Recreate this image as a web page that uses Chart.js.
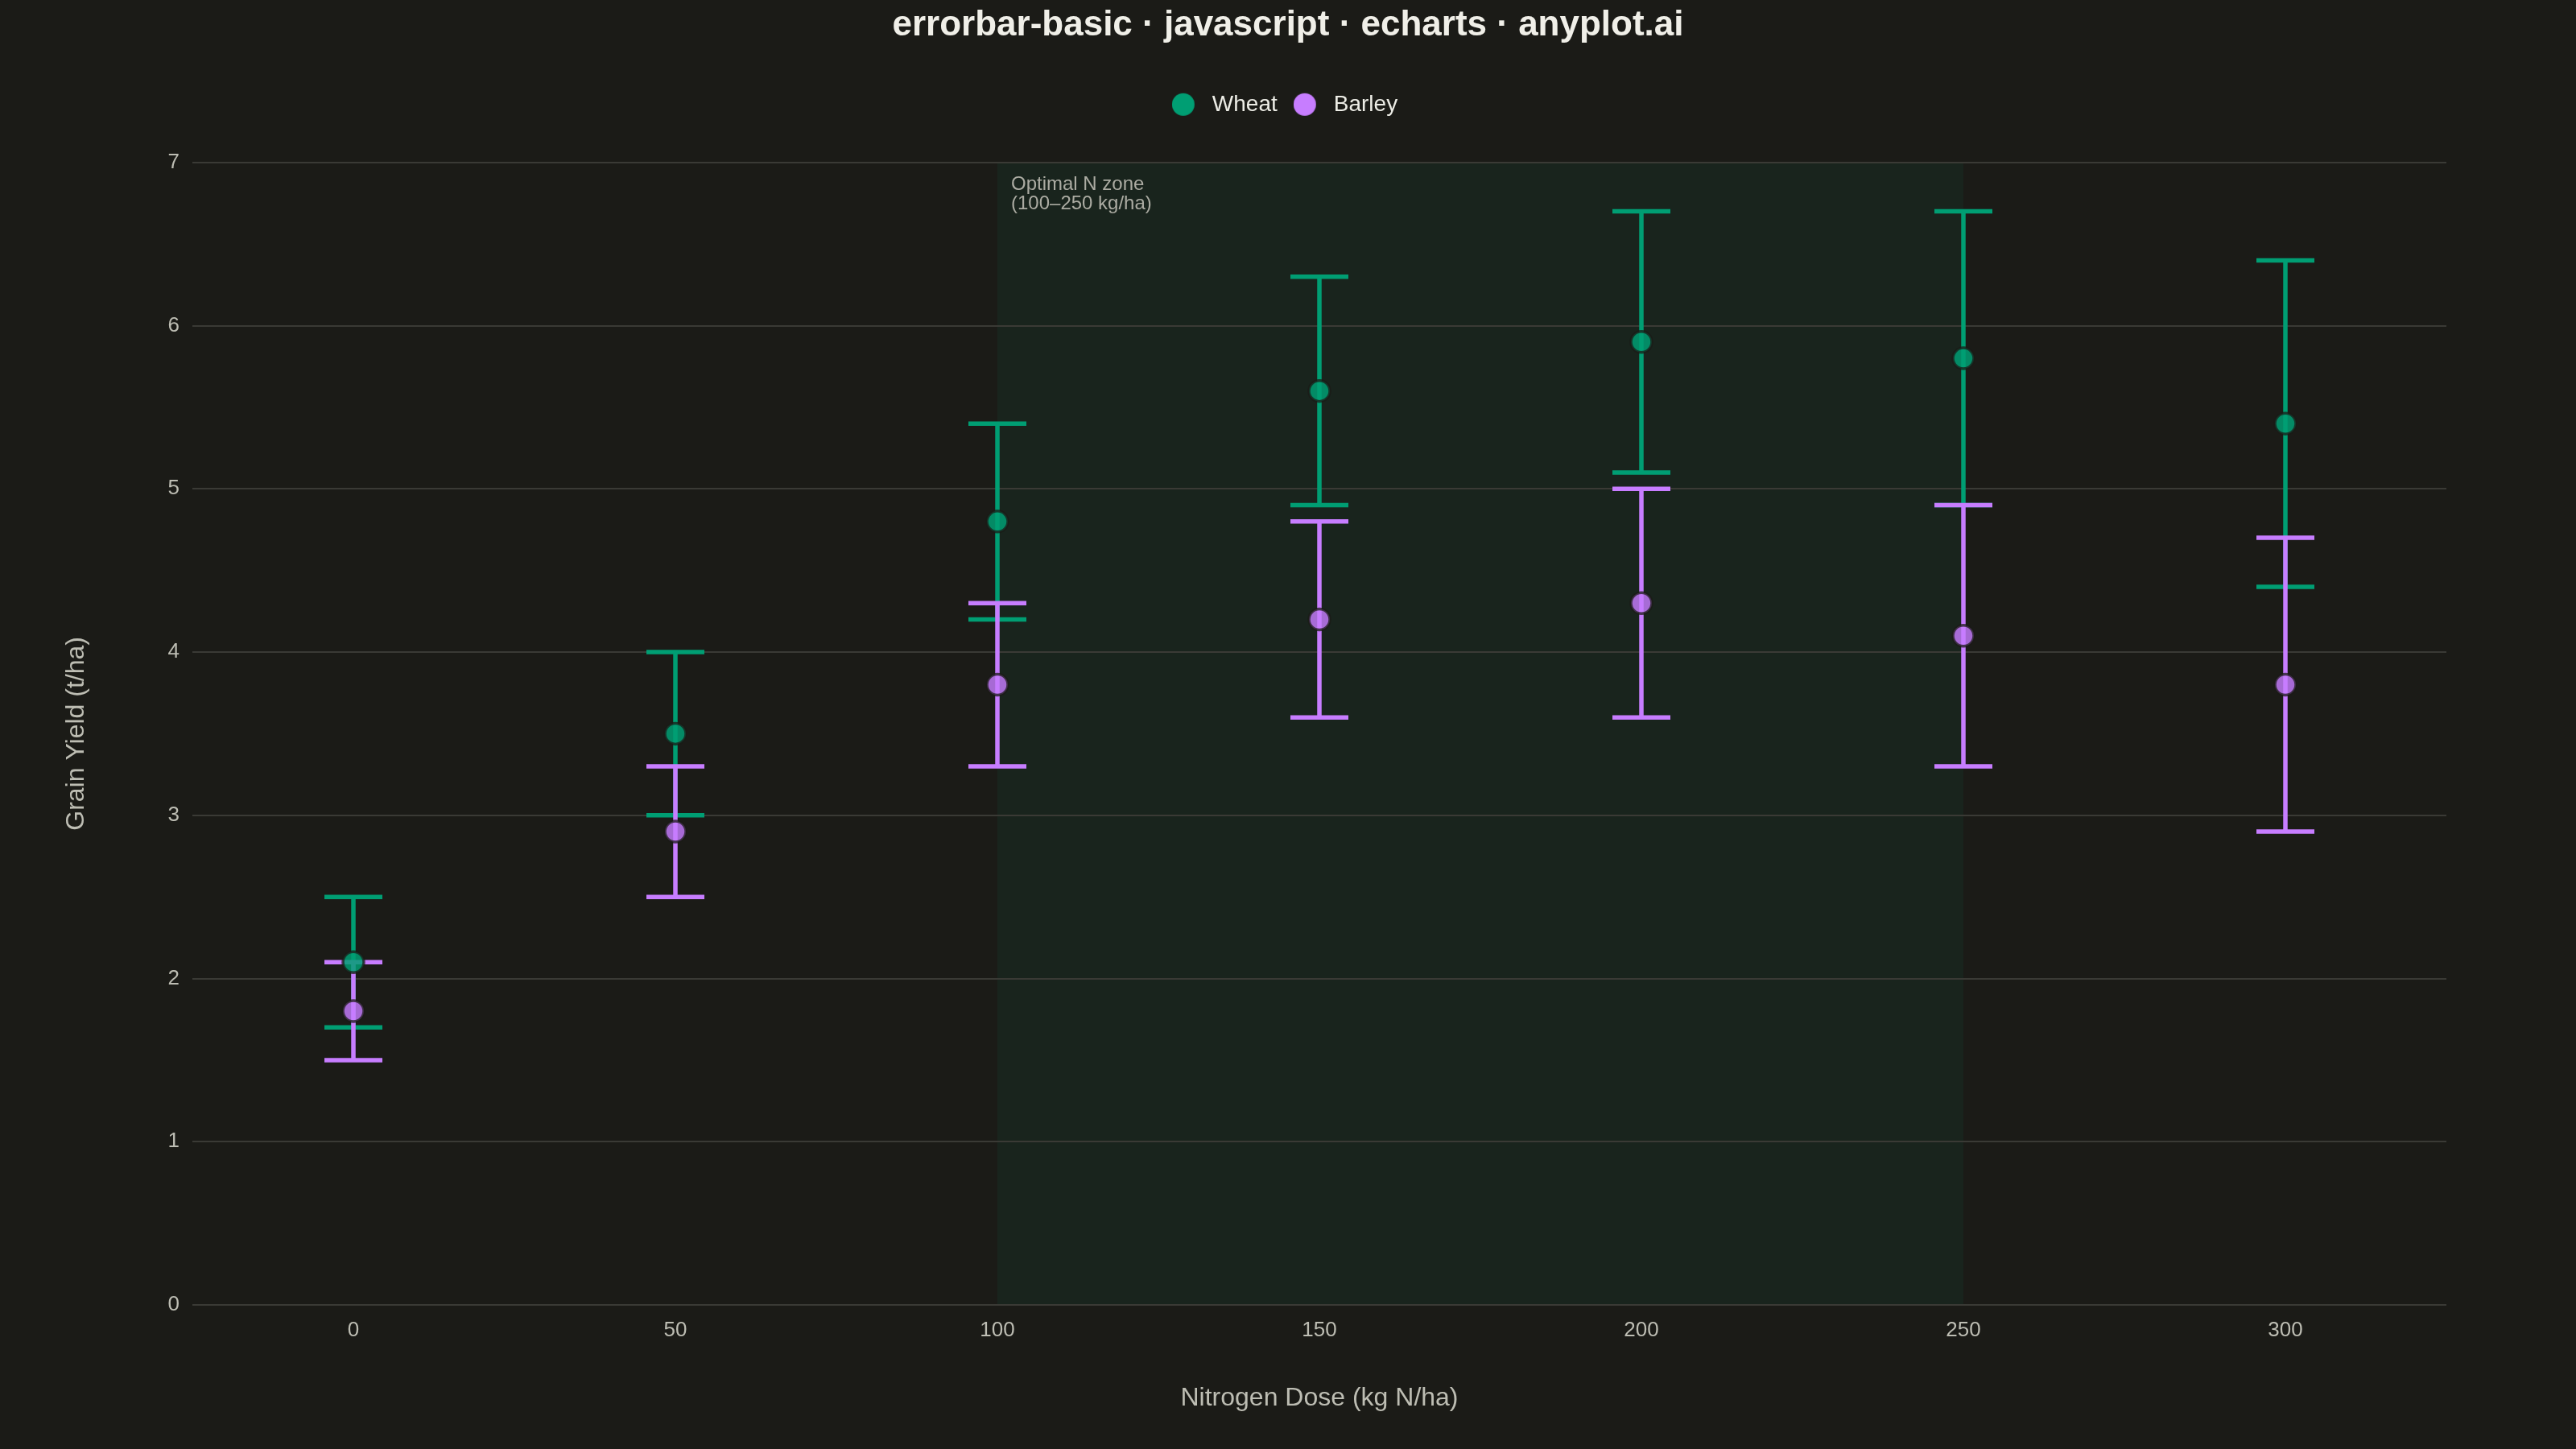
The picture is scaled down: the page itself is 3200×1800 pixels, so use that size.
<!DOCTYPE html>
<html>
<head>
<meta charset="utf-8">
<script src="https://cdn.jsdelivr.net/npm/chart.js@4.4.1/dist/chart.umd.min.js"></script>
<style>
  html, body { margin: 0; padding: 0; background: #1B1B17; }
  #wrap { width: 3200px; height: 1800px; }
</style>
</head>
<body>
<div id="wrap"><canvas id="c" width="3200" height="1800"></canvas></div>
<script>
// ---- data ----
const doses = [0, 50, 100, 150, 200, 250, 300];
const xTicks = [0, 50, 100, 150, 200, 250, 300];
const yTicks = [0, 1, 2, 3, 4, 5, 6, 7];
const seriesNames = ['Wheat', 'Barley'];
const wheatMean = [2.1, 3.5, 4.8, 5.6, 5.9, 5.8, 5.4];
const wheatLow  = [1.7, 3.0, 4.2, 4.9, 5.1, 4.9, 4.4];
const wheatHigh = [2.5, 4.0, 5.4, 6.3, 6.7, 6.7, 6.4];
const barleyMean = [1.8, 2.9, 3.8, 4.2, 4.3, 4.1, 3.8];
const barleyLow  = [1.5, 2.5, 3.3, 3.6, 3.6, 3.3, 2.9];
const barleyHigh = [2.1, 3.3, 4.3, 4.8, 5.0, 4.9, 4.7];
const zoneRange = [100, 250];
const zoneLabel = ['Optimal N zone', '(100\u2013250 kg/ha)'];

const solidColors = ['#009E73', '#C77DFF'];
const pointColors = ['rgba(0,158,115,0.85)', 'rgba(199,125,255,0.82)'];
const BG = '#1B1B17';
const FONT = "'Liberation Sans', Arial, sans-serif";

const lows = [wheatLow, barleyLow];
const highs = [wheatHigh, barleyHigh];
const means = [wheatMean, barleyMean];

// legend marker images: circle offset to the left of the image centre
function legendMarker(color) {
  const c = document.createElement('canvas');
  c.width = 44; c.height = 30;
  const g = c.getContext('2d');
  g.fillStyle = color;
  g.beginPath();
  g.arc(14, 15, 14, 0, Math.PI * 2);
  g.fill();
  return c;
}
const legendMarkers = solidColors.map(legendMarker);

const bgPlugin = {
  id: 'bgzone',
  beforeDraw(chart) {
    const {ctx, chartArea, scales} = chart;
    ctx.save();
    ctx.fillStyle = BG;
    ctx.fillRect(0, 0, chart.width, chart.height);
    const x0 = scales.x.getPixelForValue(zoneRange[0]);
    const x1 = scales.x.getPixelForValue(zoneRange[1]);
    ctx.fillStyle = 'rgba(0,158,115,0.07)';
    ctx.fillRect(x0, chartArea.top, x1 - x0, chartArea.bottom - chartArea.top);
    ctx.restore();
  },
  afterDraw(chart) {
    const {ctx, chartArea, scales} = chart;
    const x0 = scales.x.getPixelForValue(zoneRange[0]);
    ctx.save();
    ctx.fillStyle = '#ABABA2';
    ctx.font = '24px ' + FONT;
    ctx.textBaseline = 'middle';
    ctx.textAlign = 'left';
    zoneLabel.forEach((t, i) => ctx.fillText(t, x0 + 17, chartArea.top + 28 + i * 24));
    ctx.restore();
  }
};

const errPlugin = {
  id: 'errbars',
  beforeDatasetsDraw(chart) {
    const {ctx, scales} = chart;
    ctx.save();
    ctx.lineWidth = 5.5;
    ctx.lineCap = 'butt';
    const cap = 36;
    for (let s = 0; s < 2; s++) {
      ctx.strokeStyle = solidColors[s];
      for (let i = 0; i < doses.length; i++) {
        const px = scales.x.getPixelForValue(doses[i]);
        const yl = scales.y.getPixelForValue(lows[s][i]);
        const yh = scales.y.getPixelForValue(highs[s][i]);
        ctx.beginPath();
        ctx.moveTo(px, yl); ctx.lineTo(px, yh);
        ctx.moveTo(px - cap, yl); ctx.lineTo(px + cap, yl);
        ctx.moveTo(px - cap, yh); ctx.lineTo(px + cap, yh);
        ctx.stroke();
      }
    }
    ctx.restore();
  }
};

const datasets = seriesNames.map((name, s) => ({
  label: name,
  data: doses.map((d, i) => ({x: d, y: means[s][i]})),
  backgroundColor: pointColors[s],
  borderColor: 'rgba(27,27,23,0.75)',
  borderWidth: 3.5,
  pointRadius: 13,
  pointHoverRadius: 13,
  pointStyle: 'circle',
  showLine: false
}));

new Chart(document.getElementById('c'), {
  type: 'scatter',
  data: { datasets },
  plugins: [bgPlugin, errPlugin],
  options: {
    responsive: false,
    devicePixelRatio: 1,
    animation: false,
    layout: { padding: { left: 20, right: 20, top: 2, bottom: 18 } },
    plugins: {
      tooltip: { enabled: false },
      title: {
        display: true,
        text: 'errorbar-basic \u00b7 javascript \u00b7 echarts \u00b7 anyplot.ai',
        color: '#F0EFE8',
        font: { family: FONT, size: 44, weight: 'bold', lineHeight: 1.2 },
        padding: { top: 3, bottom: 30 }
      },
      subtitle: {
        display: true,
        text: ' ',
        weight: 500,
        font: { family: FONT, size: 10, lineHeight: 1.2 },
        padding: { top: 18, bottom: 18 }
      },
      legend: {
        display: true,
        position: 'top',
        labels: {
          usePointStyle: true,
          boxWidth: 28,
          boxHeight: 20,
          padding: 28,
          color: '#EDEDE6',
          font: { family: FONT, size: 28 },
          generateLabels(chart) {
            return chart.data.datasets.map((ds, i) => ({
              text: ds.label,
              fillStyle: solidColors[i],
              strokeStyle: solidColors[i],
              lineWidth: 0,
              pointStyle: legendMarkers[i],
              fontColor: '#EDEDE6',
              hidden: !chart.isDatasetVisible(i),
              datasetIndex: i
            }));
          }
        }
      }
    },
    scales: {
      x: {
        type: 'linear',
        min: -25,
        max: 325,
        afterBuildTicks(scale) { scale.ticks = xTicks.map(v => ({value: v})); },
        afterFit(scale) { scale.height = 161; },
        grid: { display: false, drawTicks: false },
        border: { display: false },
        ticks: { color: '#BDBDB3', font: { family: FONT, size: 26 }, padding: 16 },
        title: {
          display: true,
          text: 'Nitrogen Dose (kg N/ha)',
          color: '#BDBDB3',
          font: { family: FONT, size: 32, lineHeight: 1.2 },
          padding: { top: 0, bottom: 26 }
        }
      },
      y: {
        type: 'linear',
        min: 0,
        max: 7,
        afterBuildTicks(scale) { scale.ticks = yTicks.map(v => ({value: v})); },
        afterFit(scale) { scale.width = 219; },
        grid: { color: '#3A3A35', lineWidth: 2, drawTicks: false },
        border: { display: false },
        ticks: { color: '#BDBDB3', font: { family: FONT, size: 26 }, padding: 16 },
        title: {
          display: true,
          text: 'Grain Yield (t/ha)',
          color: '#BDBDB3',
          font: { family: FONT, size: 32, lineHeight: 1.2 },
          padding: { top: 56, bottom: 0 }
        }
      },
      yR: {
        type: 'linear',
        position: 'right',
        display: true,
        afterFit(scale) { scale.width = 141; },
        grid: { display: false, drawTicks: false },
        border: { display: false },
        ticks: { display: false }
      }
    }
  }
});
</script>
</body>
</html>
